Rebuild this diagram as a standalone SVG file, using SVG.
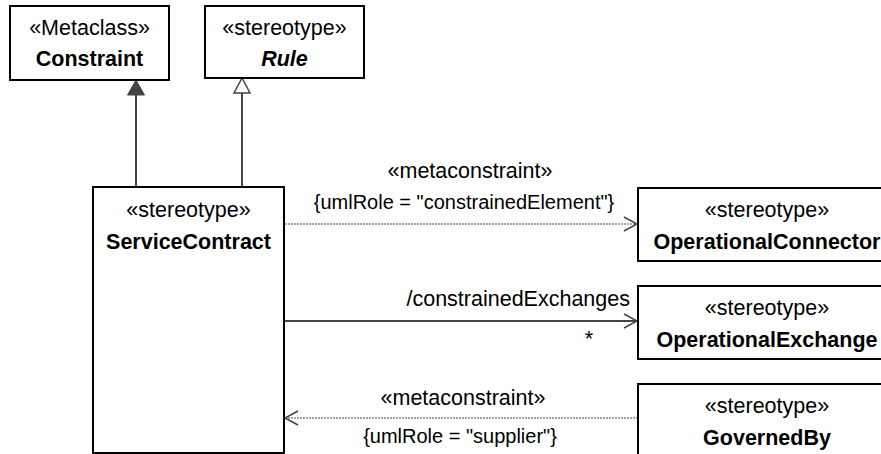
<svg xmlns="http://www.w3.org/2000/svg" width="881" height="454" viewBox="0 0 881 454">
<style>
.box{fill:#fff;stroke:#000;stroke-width:2}
text{font-family:"Liberation Sans",Arial,sans-serif;font-size:21.5px;fill:#000}
.s{font-size:20px}
.c{text-anchor:middle}
.b{font-weight:bold}
.bi{font-weight:bold;font-style:italic}
.ln{fill:none;stroke:#444;stroke-width:2}
.dot{fill:none;stroke:#888;stroke-width:1.5;stroke-dasharray:2 1}
.arr{fill:none;stroke:#444;stroke-width:1.5}
</style>
<rect width="881" height="454" fill="#fff"/>
<g id="connectors">
<line class="ln" x1="136" y1="187" x2="136" y2="95"/>
<polygon points="136,80 127.5,95 144.5,95" fill="#444" stroke="#444" stroke-width="1"/>
<line class="ln" x1="242" y1="187" x2="242" y2="93"/>
<polygon points="242,78 234,93 250,93" fill="#fff" stroke="#444" stroke-width="1.5"/>
<line class="dot" x1="285" y1="224" x2="637" y2="224"/>
<polyline class="arr" points="624,217 637,224 624,231"/>
<text class="c" x="470" y="178">«metaconstraint»</text>
<text class="c s" x="464" y="209">{umlRole = "constrainedElement"}</text>
<line class="ln" x1="285" y1="321" x2="637" y2="321"/>
<polyline class="arr" points="624,314 637,321 624,328"/>
<text x="630" y="306" text-anchor="end">/constrainedExchanges</text>
<text x="589" y="346" text-anchor="middle">*</text>
<line class="dot" x1="285" y1="418" x2="637" y2="418"/>
<polyline class="arr" points="298,411 285,418 298,425"/>
<text class="c" x="463" y="405">«metaconstraint»</text>
<text class="c s" x="460" y="443">{umlRole = "supplier"}</text>
</g>
<g id="Constraint">
<rect class="box" x="10" y="6" width="159" height="74"/>
<text class="c" x="89.5" y="35">«Metaclass»</text>
<text class="c b" x="89.5" y="66">Constraint</text>
</g>
<g id="Rule">
<rect class="box" x="205" y="6" width="159" height="72"/>
<text class="c" x="284.5" y="35">«stereotype»</text>
<text class="c bi" x="284.5" y="66">Rule</text>
</g>
<g id="ServiceContract">
<rect class="box" x="93" y="187" width="191" height="266"/>
<text class="c" x="188.5" y="217">«stereotype»</text>
<text class="c b" x="188.5" y="249">ServiceContract</text>
</g>
<g id="OperationalConnector">
<rect class="box" x="638" y="188" width="258" height="73"/>
<text class="c" x="767" y="217">«stereotype»</text>
<text class="c b" x="767" y="249">OperationalConnector</text>
</g>
<g id="OperationalExchange">
<rect class="box" x="638" y="286" width="258" height="73"/>
<text class="c" x="767" y="315">«stereotype»</text>
<text class="c b" x="767" y="347">OperationalExchange</text>
</g>
<g id="GovernedBy">
<rect class="box" x="638" y="384" width="258" height="80"/>
<text class="c" x="767" y="413">«stereotype»</text>
<text class="c b" x="767" y="445">GovernedBy</text>
</g>
</svg>
